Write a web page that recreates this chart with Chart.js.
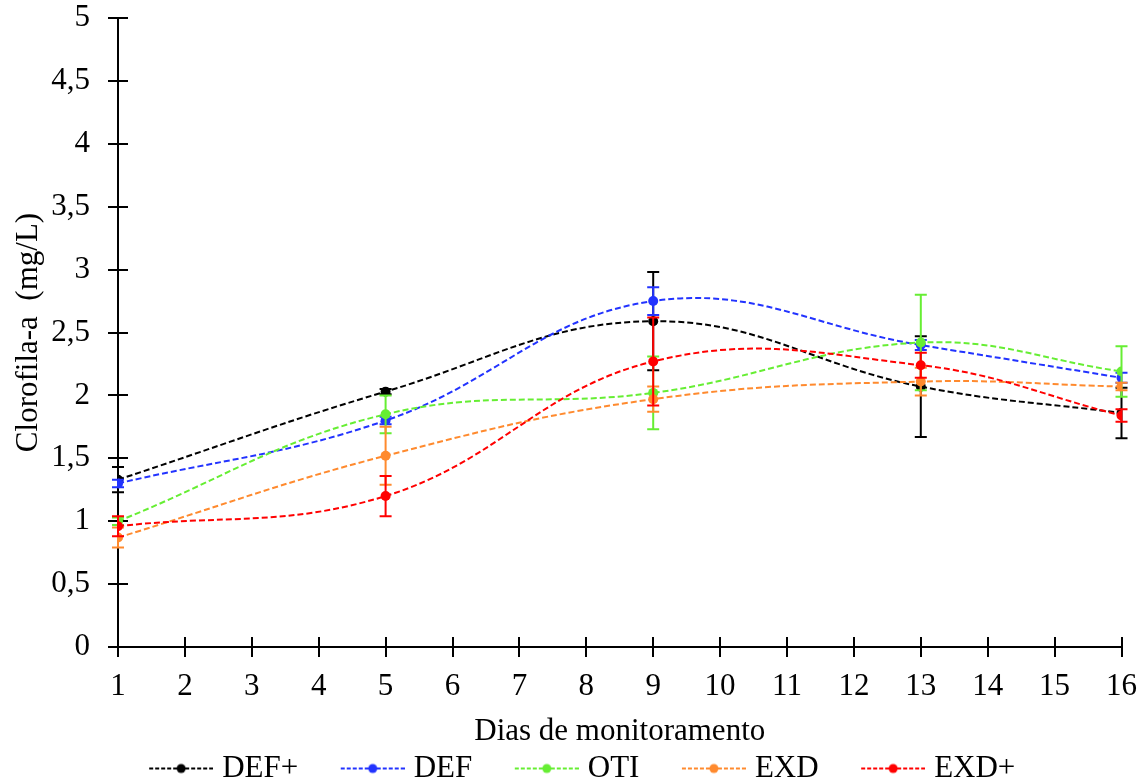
<!DOCTYPE html>
<html>
<head>
<meta charset="utf-8">
<script src="https://cdn.jsdelivr.net/npm/chart.js@4.4.1/dist/chart.umd.min.js"></script>
<style>
    html, body { margin: 0; padding: 0; background: #fff; }
</style>
</head>
<body>
<canvas id="clorofila-chart" width="1148" height="782"></canvas>
<script>
// dias de amostragem
const dias = [1, 5, 9, 13, 16];
const seriesNames = ['DEF+', 'DEF', 'OTI', 'EXD', 'EXD+'];
const seriesColors = ['#000000', '#2233ff', '#66ee33', '#ff8a2e', '#ff0000'];

// clorofila-a (mg/L) e desvio padrao
const defMais = [1.33, 2.03, 2.59, 2.07, 1.86];
const defMaisErro = [0.10, 0.02, 0.39, 0.40, 0.20];
const def = [1.30, 1.80, 2.75, 2.40, 2.14];
const defErro = [0.03, 0.03, 0.11, 0.04, 0.04];
const oti = [1.00, 1.85, 2.02, 2.42, 2.19];
const otiErro = [0.03, 0.15, 0.29, 0.38, 0.20];
const exd = [0.87, 1.52, 1.97, 2.11, 2.07];
const exdErro = [0.08, 0.23, 0.10, 0.11, 0.03];
const exdMais = [0.96, 1.20, 2.27, 2.24, 1.84];
const exdMaisErro = [0.08, 0.16, 0.35, 0.10, 0.05];

const yTickLabels = ['0', '0,5', '1', '1,5', '2', '2,5', '3', '3,5', '4', '4,5', '5'];

const allValues = [defMais, def, oti, exd, exdMais];
const allErrors = [defMaisErro, defErro, otiErro, exdErro, exdMaisErro];

const fontFamily = '"Liberation Serif", "Times New Roman", serif';
const fontSize = 31;
Chart.defaults.color = '#000';
Chart.defaults.font.family = fontFamily;
Chart.defaults.font.size = fontSize;

// simbolo da legenda: linha tracejada com ponto no meio
function legendMarker(color) {
    const c = document.createElement('canvas');
    c.width = 113;
    c.height = 12;
    const g = c.getContext('2d');
    g.strokeStyle = color;
    g.lineWidth = 2;
    g.setLineDash([4, 2]);
    g.beginPath();
    g.moveTo(49, 6);
    g.lineTo(113, 6);
    g.stroke();
    g.setLineDash([]);
    g.fillStyle = color;
    g.beginPath();
    g.arc(81, 6, 4.5, 0, Math.PI * 2);
    g.fill();
    return c;
}
const legendMarkers = seriesColors.map(legendMarker);

// barras de erro desenhadas antes de cada serie
const errorBars = {
    id: 'errorBars',
    beforeDatasetDraw(chart, args) {
        const ds = chart.data.datasets[args.index];
        const errs = allErrors[args.index];
        const {ctx, scales: {x, y}} = chart;
        ctx.save();
        ctx.strokeStyle = ds.borderColor;
        ctx.lineWidth = 2;
        ds.data.forEach((p, i) => {
            const px = x.getPixelForValue(p.x);
            const top = y.getPixelForValue(p.y + errs[i]);
            const bottom = y.getPixelForValue(p.y - errs[i]);
            ctx.beginPath();
            ctx.moveTo(px, top);
            ctx.lineTo(px, bottom);
            ctx.moveTo(px - 6, top);
            ctx.lineTo(px + 6, top);
            ctx.moveTo(px - 6, bottom);
            ctx.lineTo(px + 6, bottom);
            ctx.stroke();
        });
        ctx.restore();
    }
};

// marcas de escala cruzando os eixos (parte interna)
const innerTicks = {
    id: 'innerTicks',
    beforeDatasetsDraw(chart) {
        const {ctx, chartArea, scales: {x, y}} = chart;
        ctx.save();
        ctx.strokeStyle = '#000';
        ctx.lineWidth = 2;
        ctx.beginPath();
        x.ticks.forEach(t => {
            const px = Math.round(x.getPixelForValue(t.value));
            ctx.moveTo(px, chartArea.bottom);
            ctx.lineTo(px, chartArea.bottom - 10);
        });
        y.ticks.forEach(t => {
            const py = Math.round(y.getPixelForValue(t.value));
            ctx.moveTo(chartArea.left, py);
            ctx.lineTo(chartArea.left + 10, py);
        });
        ctx.stroke();
        ctx.restore();
    }
};

const ctx = document.getElementById('clorofila-chart').getContext('2d');
new Chart(ctx, {
    type: 'line',
    data: {
        datasets: seriesNames.map((name, k) => ({
            label: name,
            data: dias.map((d, i) => ({x: d, y: allValues[k][i]})),
            borderColor: seriesColors[k],
            backgroundColor: seriesColors[k],
            borderWidth: 2,
            borderDash: [6, 3],
            pointRadius: 5,
            pointBorderWidth: 0,
            pointBackgroundColor: seriesColors[k],
            tension: 0.4,
            order: seriesNames.length - k
        }))
    },
    options: {
        responsive: false,
        animation: false,
        layout: {
            padding: {top: 0, right: 26, left: 0, bottom: -12}
        },
        plugins: {
            tooltip: {enabled: false},
            legend: {
                position: 'bottom',
                labels: {
                    usePointStyle: true,
                    pointStyleWidth: 100,
                    padding: 0,
                    color: '#000',
                    font: {size: fontSize, family: fontFamily},
                    sort: (a, b) => a.datasetIndex - b.datasetIndex,
                    generateLabels(chart) {
                        const items = Chart.defaults.plugins.legend.labels.generateLabels(chart);
                        items.forEach(it => { it.pointStyle = legendMarkers[it.datasetIndex]; });
                        return items;
                    }
                }
            }
        },
        scales: {
            x: {
                type: 'linear',
                min: 1,
                max: 16,
                border: {display: true, color: '#000', width: 2},
                grid: {display: true, drawOnChartArea: false, drawTicks: true, tickLength: 10, color: '#000', lineWidth: 2},
                ticks: {stepSize: 1, padding: 11},
                title: {
                    display: true,
                    text: 'Dias de monitoramento',
                    padding: {top: 0, bottom: 3}
                },
                afterFit(scale) { scale.height = 106; }
            },
            y: {
                min: 0,
                max: 5,
                border: {display: true, color: '#000', width: 2},
                grid: {display: true, drawOnChartArea: false, drawTicks: true, tickLength: 10, color: '#000', lineWidth: 2},
                ticks: {
                    stepSize: 0.5,
                    padding: 18,
                    callback: (v, i) => yTickLabels[i]
                },
                title: {
                    display: true,
                    text: 'Clorofila-a  (mg/L)',
                    padding: {top: 10, bottom: 0}
                },
                afterFit(scale) {
                    scale.width = 118;
                    scale.paddingTop = 18;
                    scale.paddingBottom = 0;
                }
            }
        }
    },
    plugins: [errorBars, innerTicks]
});
</script>
</body>
</html>
